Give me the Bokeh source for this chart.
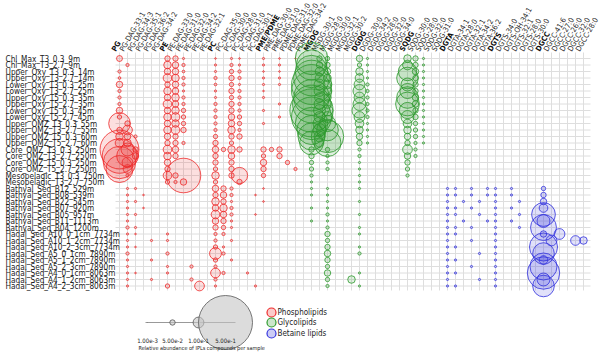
from bokeh.plotting import figure
from bokeh.models import Range1d, ColumnDataSource
from bokeh.core.properties import value
from bokeh.embed import file_html
from bokeh.resources import INLINE
import math

samples = [
    "Chl_Max_T3_0.3_9m", "Chl_Max_T3_2.7_9m",
    "Upper_Oxy_T3_0.3_14m", "Upper_Oxy_T3_2.7_14m",
    "Lower_Oxy_T3_0.3_25m", "Lower_Oxy_T3_2.7_25m",
    "Upper_Oxy_T5_0.3_35m", "Upper_Oxy_T5_2.7_35m",
    "Lower_Oxy_T5_0.3_45m", "Lower_Oxy_T5_2.7_45m",
    "Upper_OMZ_T3_0.3_55m", "Upper_OMZ_T3_2.7_55m",
    "Upper_OMZ_T5_0.3_60m", "Upper_OMZ_T5_2.7_60m",
    "Core_OMZ_T3_0.3_250m", "Core_OMZ_T3_2.7_250m",
    "Core_OMZ_T5_0.3_250m", "Core_OMZ_T5_2.7_250m",
    "Mesopelagic_T3_0.3_750m", "Mesopelagic_T3_2.7_750m",
    "Bathyal_Sed_B12_529m", "Bathyal_Sed_B08_539m", "Bathyal_Sed_B22_545m",
    "Bathyal_Sed_B07_920m", "Bathyal_Sed_B05_957m", "Bathyal_Sed_B11_1113m",
    "Bathyal_Sed_B04_1200m",
    "Hadal_Sed_A10_0_1cm_7734m", "Hadal_Sed_A10_1_2cm_7734m", "Hadal_Sed_A10_2_3cm_7734m",
    "Hadal_Sed_A5_0_1cm_7890m", "Hadal_Sed_A5_1_2cm_7890m", "Hadal_Sed_A5_2_3cm_7890m",
    "Hadal_Sed_A4_0_1cm_8063m", "Hadal_Sed_A4_1_2cm_8063m", "Hadal_Sed_A4_2_3cm_8063m",
]

pl_compounds = [
    "PG", "PG-DAG-33:1", "PG-DAG-34:3", "PG-DAG-35:1", "PG-DAG-36:2", "PG-DAG-34:2",
    "PE", "PE-DAG-33:0", "PE-DAG-31:0", "PE-DAG-32:0", "PE-DAG-34:2", "PE-DAG-32:1",
    "PC", "PC-DAG-35:0", "PC-DAG-30:0", "PC-DAG-28:0", "PC-DAG-31:0", "PC-DAG-30:1",
    "PME/PDME", "PME-DAG-30:0", "PME-DAG-31:0", "PDME-DAG-31:0", "PDME-DAG-32:0", "PDME-DAG-34:2",
]
gl_compounds = [
    "MGDG", "MGDG-30:1", "MGDG-28:0", "MGDG-30:0", "MGDG-32:1", "MGDG-30:2",
    "DGDG", "DGDG-30:0", "DGDG-34:2", "DGDG-28:0", "DGDG-32:0", "DGDG-34:0",
    "SQDG", "SQDG-30:0", "SQDG-28:0", "SQDG-32:0", "SQDG-31:0",
]
bl_compounds = [
    "DGTA", "DGTA-34:1", "DGTA-28:0", "DGTA-32:1", "DGTA-34:2", "DGTA-36:2",
    "DGTS", "DGTS-34:0", "DGTS-OH-34:1", "DGTS-32:1", "DGTS-28:0", "DGTS-30:0",
    "DGCC", "DGCC-41:6", "DGCC-27:0", "DGCC-26:0", "DGCC-32:0", "DGCC-28:0",
]
class_headers = ["PG", "PE", "PC", "PME/PDME", "MGDG", "DGDG", "SQDG", "DGTA", "DGTS", "DGCC"]

# (sample index, compound index within class, relative abundance)
pl_cells = [
    (0, 0, 0.055), (0, 6, 0.05), (0, 7, 0.05), (0, 8, 0.02), (0, 12, 0.015), (0, 14, 0.02), (0, 15, 0.015), (0, 18, 0.02), (0, 20, 0.015), (0, 22, 0.01),
    (1, 1, 0.03), (1, 6, 0.07), (1, 7, 0.06), (1, 8, 0.03), (1, 12, 0.02), (1, 14, 0.03), (1, 15, 0.02), (1, 18, 0.02), (1, 20, 0.02),
    (2, 0, 0.03), (2, 6, 0.06), (2, 7, 0.06), (2, 8, 0.025), (2, 12, 0.02), (2, 14, 0.04), (2, 15, 0.03), (2, 18, 0.015), (2, 20, 0.015),
    (3, 0, 0.025), (3, 6, 0.08), (3, 7, 0.07), (3, 8, 0.03), (3, 12, 0.03), (3, 14, 0.05), (3, 15, 0.03), (3, 18, 0.02), (3, 20, 0.02),
    (4, 0, 0.06), (4, 6, 0.05), (4, 7, 0.06), (4, 8, 0.03), (4, 12, 0.025), (4, 14, 0.04), (4, 15, 0.02), (4, 18, 0.02), (4, 20, 0.02),
    (5, 0, 0.03), (5, 6, 0.07), (5, 7, 0.06), (5, 8, 0.02), (5, 12, 0.02), (5, 14, 0.05), (5, 15, 0.03), (5, 18, 0.015),
    (6, 0, 0.03), (6, 6, 0.06), (6, 7, 0.07), (6, 8, 0.03), (6, 12, 0.02), (6, 14, 0.04), (6, 15, 0.03), (6, 18, 0.02),
    (7, 0, 0.03), (7, 6, 0.08), (7, 7, 0.06), (7, 8, 0.03), (7, 12, 0.03), (7, 14, 0.05), (7, 15, 0.03), (7, 20, 0.02),
    (8, 0, 0.06), (8, 6, 0.06), (8, 7, 0.07), (8, 8, 0.04), (8, 12, 0.03), (8, 14, 0.05), (8, 15, 0.03), (8, 18, 0.02),
    (9, 0, 0.04), (9, 6, 0.07), (9, 7, 0.08), (9, 8, 0.04), (9, 12, 0.03), (9, 14, 0.06), (9, 15, 0.04), (9, 20, 0.02),
    (10, 0, 0.2), (10, 1, 0.05), (10, 6, 0.06), (10, 7, 0.07), (10, 8, 0.04), (10, 12, 0.03), (10, 14, 0.06), (10, 15, 0.04), (10, 18, 0.02),
    (11, 0, 0.05), (11, 1, 0.09), (11, 6, 0.07), (11, 7, 0.08), (11, 8, 0.05), (11, 12, 0.03), (11, 14, 0.07), (11, 15, 0.03),
    (12, 0, 0.07), (12, 1, 0.06), (12, 2, 0.03), (12, 6, 0.06), (12, 7, 0.05), (12, 12, 0.04), (12, 14, 0.05), (12, 15, 0.05),
    (13, 0, 0.08), (13, 1, 0.07), (13, 6, 0.05), (13, 7, 0.05), (13, 8, 0.03), (13, 12, 0.05), (13, 14, 0.04),
    (14, 0, 0.36), (14, 1, 0.12), (14, 2, 0.05), (14, 6, 0.08), (14, 7, 0.06), (14, 12, 0.06), (14, 13, 0.04), (14, 14, 0.07), (14, 15, 0.05), (14, 18, 0.05), (14, 19, 0.04), (14, 20, 0.05),
    (15, 0, 0.32), (15, 1, 0.2), (15, 2, 0.06), (15, 6, 0.07), (15, 7, 0.05), (15, 12, 0.05), (15, 14, 0.06), (15, 18, 0.04), (15, 20, 0.05),
    (16, 0, 0.3), (16, 1, 0.1), (16, 6, 0.06), (16, 12, 0.05), (16, 14, 0.05), (16, 18, 0.06), (16, 21, 0.04),
    (17, 0, 0.25), (17, 1, 0.08), (17, 6, 0.05), (17, 12, 0.04), (17, 14, 0.05), (17, 18, 0.05), (17, 22, 0.03),
    (18, 1, 0.03), (18, 6, 0.08), (18, 7, 0.05), (18, 8, 0.32), (18, 12, 0.07), (18, 14, 0.05), (18, 15, 0.15), (18, 18, 0.04),
    (19, 6, 0.04), (19, 7, 0.03), (19, 8, 0.06), (19, 12, 0.04), (19, 15, 0.05),
    (20, 1, 0.02), (20, 2, 0.02), (20, 12, 0.06), (20, 13, 0.05), (20, 14, 0.03), (20, 18, 0.015),
    (21, 1, 0.02), (21, 3, 0.015), (21, 12, 0.05), (21, 13, 0.06), (21, 14, 0.03), (21, 17, 0.015),
    (22, 1, 0.02), (22, 2, 0.02), (22, 12, 0.07), (22, 13, 0.05), (22, 14, 0.02), (22, 18, 0.015),
    (23, 1, 0.02), (23, 3, 0.015), (23, 12, 0.06), (23, 13, 0.07), (23, 14, 0.03),
    (24, 1, 0.02), (24, 2, 0.02), (24, 12, 0.08), (24, 13, 0.06), (24, 14, 0.03), (24, 17, 0.015),
    (25, 1, 0.02), (25, 12, 0.06), (25, 13, 0.05), (25, 14, 0.02),
    (26, 1, 0.03), (26, 2, 0.02), (26, 12, 0.05), (26, 13, 0.04), (26, 14, 0.02),
    (27, 1, 0.02), (27, 2, 0.015), (27, 6, 0.02), (27, 12, 0.03), (27, 13, 0.03),
    (28, 1, 0.02), (28, 4, 0.02), (28, 6, 0.02), (28, 12, 0.03), (28, 14, 0.02),
    (29, 1, 0.02), (29, 2, 0.015), (29, 12, 0.04), (29, 13, 0.02),
    (30, 1, 0.03), (30, 6, 0.03), (30, 12, 0.11), (30, 13, 0.03),
    (31, 1, 0.02), (31, 4, 0.02), (31, 12, 0.04), (31, 14, 0.02),
    (32, 1, 0.02), (32, 6, 0.02), (32, 9, 0.03), (32, 12, 0.03),
    (33, 1, 0.02), (33, 2, 0.015), (33, 6, 0.02), (33, 12, 0.09), (33, 13, 0.03), (33, 16, 0.02),
    (34, 1, 0.02), (34, 4, 0.02), (34, 9, 0.03), (34, 12, 0.03),
    (35, 1, 0.02), (35, 6, 0.04), (35, 10, 0.09), (35, 12, 0.02), (35, 17, 0.02),
]
gl_cells = [
    (0, 0, 0.3), (0, 1, 0.05), (0, 2, 0.04), (0, 6, 0.06), (0, 7, 0.02), (0, 12, 0.07), (0, 13, 0.05), (0, 14, 0.02),
    (1, 0, 0.28), (1, 1, 0.06), (1, 2, 0.05), (1, 6, 0.04), (1, 7, 0.02), (1, 12, 0.09), (1, 13, 0.05), (1, 14, 0.02),
    (2, 0, 0.3), (2, 1, 0.08), (2, 2, 0.06), (2, 6, 0.07), (2, 7, 0.02), (2, 12, 0.17), (2, 13, 0.06), (2, 14, 0.02),
    (3, 0, 0.33), (3, 1, 0.08), (3, 2, 0.07), (3, 6, 0.08), (3, 7, 0.02), (3, 12, 0.2), (3, 13, 0.05), (3, 14, 0.02),
    (4, 0, 0.37), (4, 1, 0.1), (4, 2, 0.08), (4, 6, 0.1), (4, 7, 0.03), (4, 12, 0.12), (4, 13, 0.05), (4, 14, 0.02),
    (5, 0, 0.37), (5, 1, 0.1), (5, 2, 0.08), (5, 6, 0.12), (5, 7, 0.03), (5, 12, 0.14), (5, 13, 0.05), (5, 14, 0.02),
    (6, 0, 0.33), (6, 1, 0.09), (6, 2, 0.07), (6, 6, 0.1), (6, 7, 0.03), (6, 12, 0.2), (6, 13, 0.06), (6, 14, 0.02),
    (7, 0, 0.35), (7, 1, 0.1), (7, 2, 0.08), (7, 6, 0.12), (7, 7, 0.03), (7, 12, 0.22), (7, 13, 0.06), (7, 14, 0.02),
    (8, 0, 0.4), (8, 1, 0.11), (8, 2, 0.1), (8, 6, 0.14), (8, 7, 0.03), (8, 12, 0.15), (8, 13, 0.05), (8, 14, 0.02),
    (9, 0, 0.37), (9, 1, 0.1), (9, 2, 0.1), (9, 6, 0.1), (9, 7, 0.03), (9, 12, 0.12), (9, 13, 0.05), (9, 14, 0.02),
    (10, 0, 0.3), (10, 1, 0.12), (10, 2, 0.15), (10, 6, 0.08), (10, 7, 0.02), (10, 12, 0.08), (10, 13, 0.04), (10, 14, 0.02),
    (11, 0, 0.27), (11, 1, 0.12), (11, 2, 0.2), (11, 6, 0.07), (11, 7, 0.02), (11, 12, 0.07), (11, 13, 0.04), (11, 14, 0.02),
    (12, 0, 0.25), (12, 1, 0.1), (12, 2, 0.3), (12, 6, 0.06), (12, 7, 0.02), (12, 12, 0.06), (12, 13, 0.04), (12, 14, 0.02),
    (13, 0, 0.22), (13, 1, 0.08), (13, 2, 0.25), (13, 6, 0.05), (13, 7, 0.02), (13, 12, 0.05), (13, 13, 0.03), (13, 14, 0.02),
    (14, 0, 0.05), (14, 2, 0.04), (14, 6, 0.03), (14, 12, 0.09), (14, 13, 0.03),
    (15, 0, 0.05), (15, 2, 0.03), (15, 6, 0.03), (15, 12, 0.06), (15, 13, 0.03),
    (16, 0, 0.04), (16, 2, 0.03), (16, 6, 0.02), (16, 12, 0.05),
    (17, 0, 0.04), (17, 2, 0.03), (17, 6, 0.02), (17, 12, 0.04),
    (18, 0, 0.03), (18, 6, 0.02), (18, 12, 0.03),
    (19, 0, 0.02), (19, 6, 0.02),
    (20, 0, 0.02), (20, 2, 0.02), (20, 6, 0.02), (21, 0, 0.02), (21, 2, 0.02), (22, 2, 0.02), (22, 6, 0.02),
    (23, 0, 0.02), (23, 2, 0.02), (24, 2, 0.03), (24, 6, 0.02), (25, 0, 0.02), (25, 2, 0.02), (26, 2, 0.03), (26, 6, 0.02),
    (27, 2, 0.05), (27, 6, 0.02), (28, 2, 0.04), (29, 2, 0.05), (29, 6, 0.02), (30, 2, 0.06), (30, 6, 0.03),
    (31, 2, 0.05), (32, 2, 0.04), (33, 2, 0.06), (33, 6, 0.02), (34, 2, 0.04), (34, 5, 0.07), (35, 2, 0.03), (35, 6, 0.02),
]
bl_cells = [
    (20, 0, 0.02), (20, 1, 0.02), (20, 3, 0.02), (20, 5, 0.02), (20, 6, 0.02), (20, 8, 0.02), (20, 12, 0.04),
    (21, 0, 0.02), (21, 1, 0.02), (21, 3, 0.02), (21, 5, 0.02), (21, 6, 0.02), (21, 8, 0.02), (21, 12, 0.05),
    (22, 0, 0.02), (22, 2, 0.02), (22, 4, 0.02), (22, 6, 0.02), (22, 9, 0.02), (22, 12, 0.06),
    (23, 0, 0.02), (23, 1, 0.02), (23, 3, 0.02), (23, 6, 0.02), (23, 8, 0.02), (23, 12, 0.08),
    (24, 0, 0.02), (24, 1, 0.02), (24, 4, 0.02), (24, 6, 0.02), (24, 9, 0.02), (24, 12, 0.22),
    (25, 0, 0.02), (25, 2, 0.02), (25, 5, 0.02), (25, 6, 0.02), (25, 8, 0.02), (25, 12, 0.12),
    (26, 0, 0.02), (26, 1, 0.02), (26, 3, 0.02), (26, 6, 0.02), (26, 9, 0.02), (26, 12, 0.24),
    (27, 0, 0.02), (27, 1, 0.02), (27, 6, 0.02), (27, 12, 0.06), (27, 14, 0.1),
    (28, 0, 0.02), (28, 3, 0.02), (28, 6, 0.02), (28, 13, 0.1), (28, 16, 0.09), (28, 17, 0.07),
    (29, 0, 0.02), (29, 1, 0.02), (29, 6, 0.02), (29, 12, 0.26),
    (30, 0, 0.02), (30, 4, 0.02), (30, 6, 0.02), (30, 12, 0.2),
    (31, 0, 0.02), (31, 1, 0.02), (31, 6, 0.02), (31, 12, 0.08),
    (32, 0, 0.02), (32, 3, 0.02), (32, 6, 0.02), (32, 12, 0.25),
    (33, 0, 0.02), (33, 1, 0.02), (33, 6, 0.02), (33, 12, 0.3),
    (34, 0, 0.02), (34, 4, 0.02), (34, 6, 0.02), (34, 12, 0.12),
    (35, 0, 0.02), (35, 1, 0.02), (35, 6, 0.02), (35, 12, 0.2),
]

legend_values = [1e-3, 5e-2, 1e-1, 5e-1]
legend_labels = ["1.00e-3", "5.00e-2", "1.00e-1", "5.00e-1"]
class_names = ["Phospholipids", "Glycolipids", "Betaine lipids"]
class_colors = ["#ee2b2b", "#2e9a2e", "#3333dd"]

compounds = pl_compounds + gl_compounds + bl_compounds
offsets = [0, len(pl_compounds), len(pl_compounds) + len(gl_compounds)]
PX_PER_UNIT = 108.0  # bubble diameter in px per unit of relative abundance

W, H = 600, 355
XS, YS = 8.0, 6.5   # px per column / per row
X0 = -119.0 / XS
Y0 = -58.0 / YS
p = figure(width=W, height=H, output_backend="svg", toolbar_location=None,
           x_range=Range1d(X0, X0 + W / XS), y_range=Range1d(Y0 + H / YS, Y0),
           min_border=0, outline_line_color=None)
p.axis.visible = False
p.xgrid.visible = False
p.ygrid.visible = False


def px(xp):
    return (xp - 119.0) / XS


def py(yp):
    return (yp - 58.0) / YS


ncol = len(compounds)
nrow = len(samples)
# grid
p.segment(x0=list(range(ncol)), y0=[py(52)] * ncol, x1=list(range(ncol)), y1=[py(290)] * ncol,
          line_color="#dedede", line_width=1)
p.segment(x0=[px(115)] * nrow, y0=list(range(nrow)), x1=[px(590)] * nrow, y1=list(range(nrow)),
          line_color="#dedede", line_width=1)

FONT = "DejaVu Sans Condensed, Liberation Sans Narrow, Liberation Sans"
# row labels
p.text(x=[px(5)] * nrow, y=list(range(nrow)), text=samples, text_font=value(FONT),
       text_font_size="8.2px", text_align="left", text_baseline="middle", text_color="#1a1a1a")
# column labels
ang = math.radians(60)
norm = [c for c in compounds if c not in class_headers]
bold = [c for c in compounds if c in class_headers]
p.text(x=[i - 0.75 for i, c in enumerate(compounds) if c not in class_headers],
       y=[-1.2] * len(norm), text=norm, angle=ang, text_font=value(FONT),
       text_font_size="7.5px", text_align="left", text_baseline="middle", text_color="#2a2a2a")
p.text(x=[i - 0.75 for i, c in enumerate(compounds) if c in class_headers],
       y=[-1.2] * len(bold), text=bold, angle=ang, text_font=value(FONT),
       text_font_size="7.5px", text_font_style="bold", text_align="left", text_baseline="middle",
       text_color="#111111")

# bubbles
for cells, off, col in zip([pl_cells, gl_cells, bl_cells], offsets, class_colors):
    src = ColumnDataSource(dict(
        x=[c + off for r, c, v in cells], y=[r for r, c, v in cells],
        s=[max(v * PX_PER_UNIT, 1.2) for r, c, v in cells]))
    p.scatter("x", "y", size="s", source=src, marker="circle", fill_color=col,
              fill_alpha=0.15, line_color=col, line_width=0.9, line_alpha=0.9)

# size legend
ly = py(322)
lx = [px(147), px(172), px(198), px(225)]
p.line(x=[px(145), px(235)], y=[ly, ly], line_color="#999999", line_width=1)
p.scatter(x=lx, y=[ly] * 4, size=[v * PX_PER_UNIT for v in legend_values], marker="circle",
          fill_color="#c4c4c4", fill_alpha=0.6, line_color="#555555", line_width=0.8)
p.text(x=lx, y=[py(340)] * 4, text=legend_labels, text_font=value(FONT),
       text_font_size="6px", text_align="center", text_baseline="middle", text_color="#222222")
p.text(x=[px(138)], y=[py(347)], text=["Relative abundance of IPLs compounds per sample"],
       text_font=value(FONT), text_font_size="5.5px", text_align="left", text_baseline="middle",
       text_color="#222222")

# class legend
cy = [py(312), py(322), py(333)]
p.scatter(x=[px(271)] * 3, y=cy, size=9, marker="circle", fill_color=class_colors, fill_alpha=0.25,
          line_color=class_colors, line_width=1.2)
p.text(x=[px(277)] * 3, y=cy, text=class_names, text_font=value(FONT),
       text_font_size="8px", text_align="left", text_baseline="middle", text_color="#222222")

open("out.html", "w").write(file_html(p, INLINE))
